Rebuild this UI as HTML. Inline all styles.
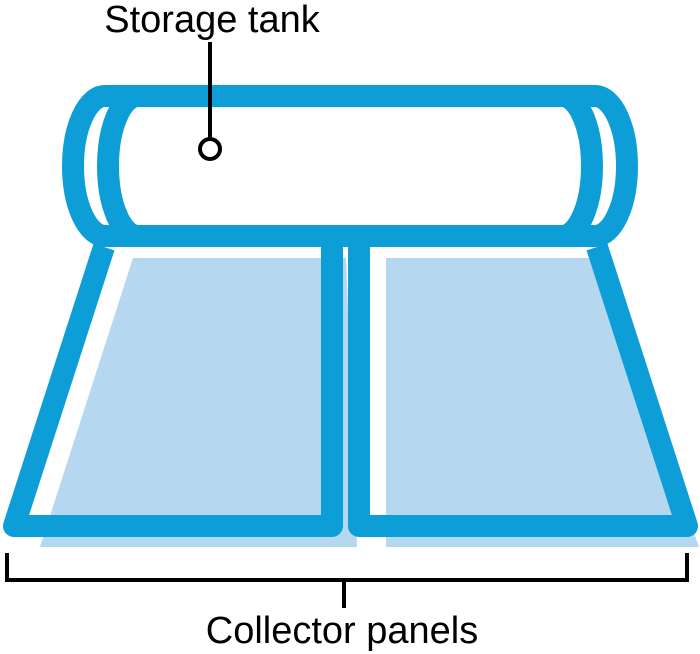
<!DOCTYPE html>
<html><head><style>body{margin:0;background:#fff}svg{display:block}</style></head><body>
<svg width="700" height="654" viewBox="0 0 700 654" xmlns="http://www.w3.org/2000/svg">
<polygon points="133,258 346,258 357,547 40,547" fill="#b5d7f0"/>
<polygon points="386,258 600,258 699,547 386,547" fill="#b5d7f0"/>
<g fill="none" stroke="#0d9ed8" stroke-width="22" stroke-linejoin="round">
<path d="M104,247 L14,526 L332,526 L332,247"/>
<path d="M597,247 L687,526 L359,526 L359,247"/>
<path d="M105,96 L595,96 A32 70 0 0 1 595,236 L105,236 A32 70 0 0 1 105,96 Z" fill="#fff"/>
<path d="M138,96 A30 70 0 0 0 138,236"/>
<path d="M562,96 A30 70 0 0 1 562,236"/>
</g>
<line x1="210" y1="42" x2="210" y2="139" stroke="#000" stroke-width="4"/>
<circle cx="210" cy="149" r="10" fill="#fff" stroke="#000" stroke-width="4"/>
<path d="M7,553 L7,580 L687,580 L687,553 M344,580 L344,608" fill="none" stroke="#000" stroke-width="4"/>
<text x="212" y="32" font-family="Liberation Sans, sans-serif" font-size="38" text-anchor="middle">Storage tank</text>
<text x="342" y="643" font-family="Liberation Sans, sans-serif" font-size="38" text-anchor="middle">Collector panels</text>
</svg>
</body></html>
